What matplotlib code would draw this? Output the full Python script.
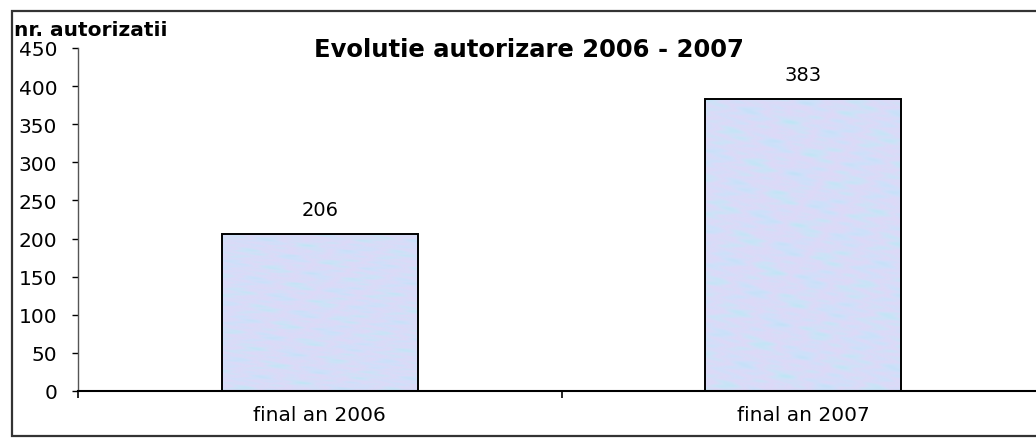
import numpy as np
import matplotlib
matplotlib.use("Agg")
import matplotlib.pyplot as plt
from matplotlib.colors import LinearSegmentedColormap
from matplotlib.lines import Line2D

categories = ["final an 2006", "final an 2007"]
values = [206, 383]
yticks = [0, 50, 100, 150, 200, 250, 300, 350, 400, 450]
title = "Evolutie autorizare 2006 - 2007"
ylabel = "nr. autorizatii"

plt.rcParams['font.family'] = ['DejaVu Sans']

W, H = 1036, 439
fig = plt.figure(figsize=(W / 100, H / 100), dpi=100)
fig.patch.set_facecolor('white')
fig.patch.set_linewidth(0)

# outer frame: left, top, bottom (right side is cut off in the reference)
fx0, fy0, fy1 = 11.5 / W, 1 - 436.5 / H, 1 - 12 / H
frame = Line2D([1.05, fx0, fx0, 1.05], [fy1, fy1, fy0, fy0], transform=fig.transFigure,
               color='#333333', linewidth=1.6, solid_joinstyle='miter')
fig.lines.append(frame)

ax = fig.add_axes([78 / W, 1 - 392 / H, (1045 - 78) / W, (392 - 49) / H])
ax.set_facecolor('none')

x = np.arange(len(categories))
bars = ax.bar(x, values, width=0.405, facecolor='none', edgecolor='black', linewidth=1.4, zorder=3)

# marbled texture fill (pure styling)
cmap = LinearSegmentedColormap.from_list('marble', [(0.76, 0.88, 0.97), (0.81, 0.88, 0.98),
                                                    (0.87, 0.85, 0.97), (0.80, 0.89, 0.97),
                                                    (0.74, 0.90, 0.96)])
yy, xx = np.mgrid[0:300, 0:80]
tex = (np.sin(xx * 0.21 + yy * 0.07) + np.sin(xx * 0.09 - yy * 0.17 + 1.3)
       + 0.8 * np.sin(xx * 0.43 + yy * 0.31 + 2.1) + 0.6 * np.sin(yy * 0.53 - xx * 0.19)
       + 0.5 * np.sin(xx * 0.77 + yy * 0.91 + 0.4) + 0.4 * np.sin(yy * 1.13 + xx * 0.05 + 2.7))
for b in bars:
    im = ax.imshow(tex, extent=[b.get_x(), b.get_x() + b.get_width(), 0, b.get_height()],
                   aspect='auto', cmap=cmap, interpolation='bicubic', zorder=2, origin='lower')
    im.set_clip_path(b)

for xi, v in zip(x, values):
    ax.annotate(str(v), (xi, v), xytext=(0, 15), textcoords='offset pixels',
                ha='center', va='bottom', fontsize=14, color='black')

ax.set_xlim(-0.5, 1.5)
ax.set_ylim(0, 450)
ax.set_yticks(yticks)
ax.set_yticklabels([str(t) for t in yticks])
ax.tick_params(axis='y', direction='out', length=4.5, width=1, pad=10.5, labelsize=14.5)

ax.set_xticks([-0.5, 0.5, 1.5])
ax.set_xticklabels(['', '', ''])
ax.set_xticks(x, minor=True)
ax.set_xticklabels(categories, minor=True)
ax.tick_params(axis='x', which='major', direction='out', length=5, width=1.2)
ax.tick_params(axis='x', which='minor', length=0, pad=10, labelsize=14.5)

for s in ['top', 'right']:
    ax.spines[s].set_visible(False)
ax.spines['left'].set_color('#555555')
ax.spines['left'].set_linewidth(1.0)
ax.spines['bottom'].set_color('black')
ax.spines['bottom'].set_linewidth(1.5)

fig.text(529 / W, 1 - 57 / H, title, ha='center', va='baseline', fontsize=17.5, fontweight='bold')
fig.text(14 / W, 1 - 36 / H, ylabel, ha='left', va='baseline', fontsize=14.5, fontweight='bold')

fig.savefig('out.png', dpi=100)
